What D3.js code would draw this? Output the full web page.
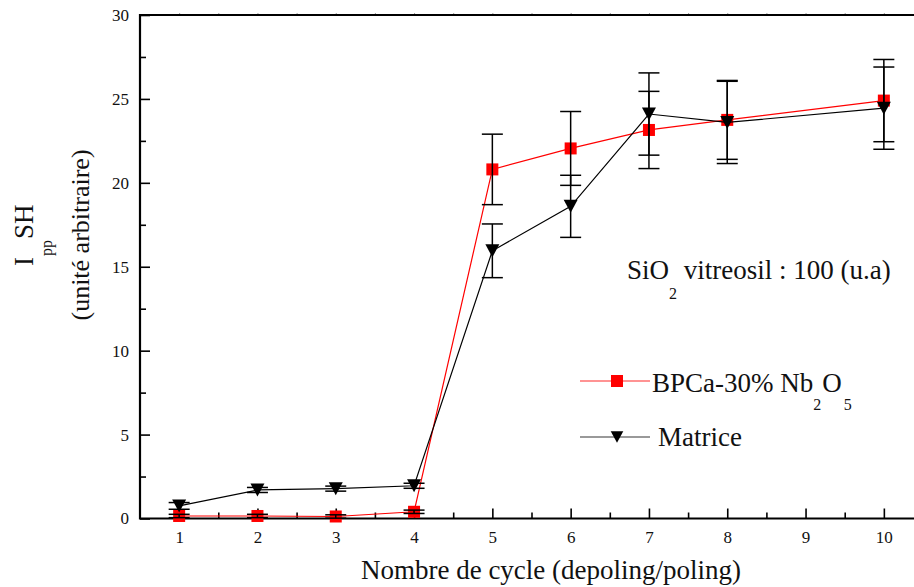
<!DOCTYPE html>
<html>
<head>
<meta charset="utf-8">
<script src="https://cdn.jsdelivr.net/npm/d3@7"></script>
<style>
  body { margin: 0; background: #fff; }
  svg { display: block; }
</style>
</head>
<body>
<div id="chart"></div>
<script>
// Données
const cycles = [1, 2, 3, 4, 5, 6, 7, 8, 10];
const bpcaValues = [0.15, 0.15, 0.12, 0.4, 20.8, 22.05, 23.15, 23.75, 24.9];
const bpcaErrors = [0.1, 0.1, 0.1, 0.1, 2.1, 2.2, 2.3, 2.35, 2.45];
const matriceValues = [0.75, 1.7, 1.78, 1.95, 15.95, 18.6, 24.1, 23.6, 24.45];
const matriceErrors = [0.2, 0.15, 0.15, 0.15, 1.6, 1.85, 2.45, 2.45, 2.45];
const xTicks = [1, 2, 3, 4, 5, 6, 7, 8, 9, 10];
const yTicks = [0, 5, 10, 15, 20, 25, 30];

const W = 914, H = 587;
const margin = { top: 15, left: 140 };
const plotW = 783, plotH = 503.5;
const font = "'Liberation Serif', 'Times New Roman', serif";

const svg = d3.select("#chart").append("svg")
    .attr("width", W)
    .attr("height", H)
    .style("font-family", font);

svg.append("rect").attr("width", W).attr("height", H).attr("fill", "#fff");

const g = svg.append("g").attr("transform", `translate(${margin.left},${margin.top})`);

const x = d3.scaleLinear().domain([0.5, 10.5]).range([0, plotW]);
const y = d3.scaleLinear().domain([0, 30]).range([plotH, 0]);

// Axes (ticks vers l'intérieur)
const xAxis = g.append("g")
    .attr("transform", `translate(0,${plotH})`)
    .call(d3.axisBottom(x).tickValues(xTicks).tickSize(-10).tickSizeOuter(0).tickPadding(12.5).tickFormat(d3.format("d")));
const xMinor = g.append("g")
    .attr("transform", `translate(0,${plotH})`)
    .call(d3.axisBottom(x).tickValues(d3.range(1.5, 10.5, 1)).tickSize(-6).tickFormat(""));
const yAxis = g.append("g")
    .call(d3.axisLeft(y).tickValues(yTicks).tickSize(-10).tickSizeOuter(0).tickPadding(11));
const yMinor = g.append("g")
    .call(d3.axisLeft(y).tickValues(d3.range(2.5, 30, 5)).tickSize(-6).tickFormat(""));
// petites marques sur l'axe du haut
const topTicks = g.append("g")
    .call(d3.axisTop(x).tickValues(d3.range(1, 10.6, 0.5)).tickSize(2).tickFormat(""));

[xAxis, xMinor, yAxis, yMinor, topTicks].forEach(a => a.select(".domain").remove());
[xAxis, xMinor, yAxis, yMinor].forEach(a => a.selectAll("line").attr("stroke", "#000").attr("stroke-width", 1.6));
topTicks.selectAll("line").attr("stroke", "#999").attr("stroke-width", 1);
[xAxis, yAxis].forEach(a => a.selectAll("text")
    .attr("fill", "#111")
    .style("font-family", font)
    .style("font-size", "17px"));

// cadre
g.append("path")
    .attr("d", `M${plotW + 20},0H0V${plotH}H${plotW + 20}`)
    .attr("fill", "none")
    .attr("stroke", "#000")
    .attr("stroke-width", 2.2);

// Séries
const bpca = cycles.map((c, i) => ({ c, v: bpcaValues[i], e: bpcaErrors[i] }));
const matrice = cycles.map((c, i) => ({ c, v: matriceValues[i], e: matriceErrors[i] }));

const line = d3.line().x(d => x(d.c)).y(d => y(d.v));
const triangle = "M-7,-6.5L7,-6.5L0,6.5Z";

function errorBars(data) {
    const eb = g.append("g").attr("stroke", "#000").attr("stroke-width", 1.5);
    data.forEach(d => {
        eb.append("line").attr("x1", x(d.c)).attr("x2", x(d.c)).attr("y1", y(d.v - d.e)).attr("y2", y(d.v + d.e));
        [d.v - d.e, d.v + d.e].forEach(v => {
            eb.append("line").attr("x1", x(d.c) - 10.5).attr("x2", x(d.c) + 10.5).attr("y1", y(v)).attr("y2", y(v));
        });
    });
}

// BPCa-30% Nb2O5
g.append("path").datum(bpca).attr("d", line).attr("fill", "none").attr("stroke", "#ff0000").attr("stroke-width", 1.2);
g.selectAll(".sq").data(bpca).enter().append("rect")
    .attr("class", "sq")
    .attr("x", d => x(d.c) - 6).attr("y", d => y(d.v) - 6)
    .attr("width", 12).attr("height", 12)
    .attr("fill", "#ff0000");
errorBars(bpca);

// Matrice
g.append("path").datum(matrice).attr("d", line).attr("fill", "none").attr("stroke", "#000").attr("stroke-width", 1.2);
g.selectAll(".tri").data(matrice).enter().append("path")
    .attr("class", "tri")
    .attr("d", triangle)
    .attr("transform", d => `translate(${x(d.c)},${y(d.v)})`)
    .attr("fill", "#000");
errorBars(matrice);

// Annotation SiO2
const ann = svg.append("text").attr("x", 627).attr("y", 279).style("font-size", "27px").attr("fill", "#111");
ann.append("tspan").text("SiO");
ann.append("tspan").attr("dy", 20).style("font-size", "16px").text("2");
ann.append("tspan").attr("dy", -20).text(" vitreosil : 100 (u.a)");

// Légende
const leg = svg.append("g");
leg.append("line").attr("x1", 580).attr("x2", 650).attr("y1", 381).attr("y2", 381).attr("stroke", "#ff6f6f").attr("stroke-width", 1.5);
leg.append("rect").attr("x", 611).attr("y", 375).attr("width", 12).attr("height", 12).attr("fill", "#ff0000");
const l1 = leg.append("text").attr("x", 652).attr("y", 392).style("font-size", "27px").attr("fill", "#111");
l1.append("tspan").text("BPCa-30% Nb");
l1.append("tspan").attr("dy", 18).style("font-size", "16px").text("2");
l1.append("tspan").attr("dy", -18).attr("dx", 1).text("O");
l1.append("tspan").attr("dy", 18).attr("dx", 2).style("font-size", "16px").text("5");

leg.append("line").attr("x1", 580).attr("x2", 650).attr("y1", 437).attr("y2", 437).attr("stroke", "#777").attr("stroke-width", 1.5);
leg.append("path").attr("d", triangle).attr("transform", "translate(617,437) scale(0.9)").attr("fill", "#000");
leg.append("text").attr("x", 658).attr("y", 446).style("font-size", "27px").attr("fill", "#111").text("Matrice");

// Titres des axes
svg.append("text")
    .attr("x", 551).attr("y", 579)
    .attr("text-anchor", "middle")
    .style("font-size", "27px")
    .attr("fill", "#111")
    .text("Nombre de cycle (depoling/poling)");

const yl = svg.append("text")
    .attr("transform", "translate(33,266) rotate(-90)")
    .style("font-size", "27px")
    .attr("fill", "#111");
yl.append("tspan").text("I");
yl.append("tspan").attr("dy", 19).attr("dx", 1).style("font-size", "16px").text("pp");
yl.append("tspan").attr("dy", -19).attr("dx", 1).text("SH");

svg.append("text")
    .attr("transform", "translate(89,235) rotate(-90)")
    .attr("text-anchor", "middle")
    .style("font-size", "26px")
    .attr("fill", "#111")
    .text("(unité arbitraire)");
</script>
</body>
</html>
